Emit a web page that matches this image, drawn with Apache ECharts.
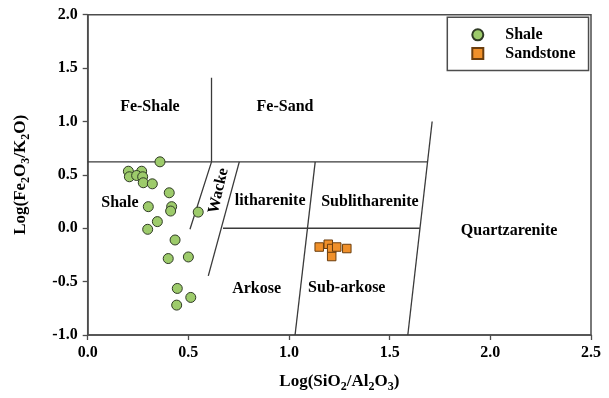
<!DOCTYPE html>
<html><head><meta charset="utf-8">
<script src="https://cdn.jsdelivr.net/npm/echarts@6/dist/echarts.min.js"></script>
<style>html,body{margin:0;padding:0;background:#fff}#c{width:609px;height:398px}</style>
</head><body><div id="c"></div>
<script>
// ---- data ----
const shaleX = [0.359, 0.202, 0.268, 0.207, 0.243, 0.273, 0.276, 0.321, 0.405, 0.301, 0.417, 0.412, 0.549, 0.346, 0.298, 0.434, 0.400, 0.500, 0.445, 0.512, 0.442];
const shaleY = [0.622, 0.534, 0.534, 0.482, 0.494, 0.482, 0.426, 0.416, 0.332, 0.202, 0.202, 0.161, 0.151, 0.062, -0.010, -0.110, -0.284, -0.269, -0.564, -0.648, -0.720];
const sandX = [1.150, 1.195, 1.212, 1.237, 1.212, 1.287];
const sandY = [-0.176, -0.150, -0.190, -0.176, -0.265, -0.190];

const xTicks = [0.0, 0.5, 1.0, 1.5, 2.0, 2.5];
const yTicks = [-1.0, -0.5, 0.0, 0.5, 1.0, 1.5, 2.0];

// classification field boundaries (data coordinates)
const boundFe = [[0.615, 1.41], [0.615, 0.622], [0.508, -0.01]];
const boundTop = [[0.0, 0.622], [1.689, 0.622]];
const boundZero = [[0.672, 0.0], [1.650, 0.0]];
const boundWacke = [[0.753, 0.622], [0.599, -0.446]];
const boundLith = [[1.130, 0.622], [1.030, -1.0]];
const boundQtz = [[1.590, -1.0], [1.711, 1.0]];

const regionNames = ['Fe-Shale', 'Fe-Sand', 'Shale', 'Wacke', 'litharenite', 'Sublitharenite', 'Quartzarenite', 'Arkose', 'Sub-arkose'];
const regionX = [0.309, 0.980, 0.160, 0.650, 0.906, 1.402, 2.093, 0.839, 1.287];
const regionY = [1.134, 1.134, 0.239, 0.350, 0.254, 0.248, -0.026, -0.564, -0.555];
const regionRotate = [0, 0, 0, 77, 0, 0, 0, 0, 0];

// ---- chart ----
const FONT = 'Liberation Serif, Times New Roman, serif';
const axisColor = '#4d4d4d';
const chart = echarts.init(document.getElementById('c'), null, {renderer: 'canvas'});

const lineSeries = [boundFe, boundTop, boundZero, boundWacke, boundLith, boundQtz].map(seg => ({
  type: 'line', data: seg, symbol: 'none', silent: true, z: 1,
  lineStyle: {color: '#3a3a3a', width: 1.3}, animation: false
}));

const subRich = {
  n: {fontFamily: FONT, fontWeight: 'bold', fontSize: 17, lineHeight: 22, color: '#000'},
  s: {fontFamily: FONT, fontWeight: 'bold', fontSize: 12, lineHeight: 11, verticalAlign: 'bottom', color: '#000'}
};

chart.setOption({
  animation: false,
  grid: {left: 87.7, top: 14.7, right: 18, bottom: 62, show: true, borderColor: axisColor, borderWidth: 1.5, backgroundColor: 'transparent'},
  xAxis: {
    type: 'value', min: xTicks[0], max: xTicks[xTicks.length - 1], interval: 0.5,
    splitLine: {show: false},
    axisLine: {onZero: false, lineStyle: {color: axisColor, width: 1.5}},
    axisTick: {show: true, length: 5, lineStyle: {color: axisColor, width: 1.3}},
    axisLabel: {margin: 10, color: '#000', fontFamily: FONT, fontWeight: 'bold', fontSize: 16, formatter: v => v.toFixed(1)},
    name: '{n|Log(SiO}{s|2}{n|/Al}{s|2}{n|O}{s|3}{n|)}',
    nameLocation: 'middle', nameGap: 36,
    nameTextStyle: {rich: subRich}
  },
  yAxis: {
    type: 'value', min: yTicks[0], max: yTicks[yTicks.length - 1], interval: 0.5,
    splitLine: {show: false},
    axisLine: {show: true, onZero: false, lineStyle: {color: axisColor, width: 1.5}},
    axisTick: {show: true, length: 5, lineStyle: {color: axisColor, width: 1.3}},
    axisLabel: {margin: 10, color: '#000', fontFamily: FONT, fontWeight: 'bold', fontSize: 16, formatter: v => v.toFixed(1)},
    name: '{n|Log(Fe}{s|2}{n|O}{s|3}{n|/K}{s|2}{n|O)}',
    nameLocation: 'middle', nameGap: 56, nameRotate: 90,
    nameTextStyle: {rich: subRich}
  },
  legend: {
    data: ['Shale', 'Sandstone'], orient: 'vertical', left: 447.3, top: 17.3,
    padding: [9.5, 13, 9, 24], itemGap: 2.7, itemWidth: 11, itemHeight: 11,
    borderColor: axisColor, borderWidth: 1.5, backgroundColor: '#fff',
    textStyle: {fontFamily: FONT, fontWeight: 'bold', fontSize: 16, lineHeight: 16, color: '#000', padding: [0, 0, 0, 17]}
  },
  series: [
    ...lineSeries,
    {
      type: 'scatter', name: 'regions', silent: true, symbolSize: 0, z: 3,
      itemStyle: {opacity: 1},
      data: regionNames.map((n, i) => ({value: [regionX[i], regionY[i]], name: n, label: {rotate: regionRotate[i]}})),
      label: {show: true, position: 'inside', formatter: p => p.name, fontFamily: FONT, fontWeight: 'bold', fontSize: 16, color: '#000', opacity: 1}
    },
    {
      type: 'scatter', name: 'Shale', symbol: 'circle', symbolSize: 10, z: 5,
      data: shaleX.map((x, i) => [x, shaleY[i]]),
      itemStyle: {color: '#9dcb6b', borderColor: '#2f3a25', borderWidth: 1, opacity: 1}
    },
    {
      type: 'scatter', name: 'Sandstone', symbol: 'rect', symbolSize: 8.5, z: 5,
      data: sandX.map((x, i) => [x, sandY[i]]),
      itemStyle: {color: '#f0902a', borderColor: '#6b3e0e', borderWidth: 1, opacity: 1}
    }
  ]
});
</script>
</body></html>
